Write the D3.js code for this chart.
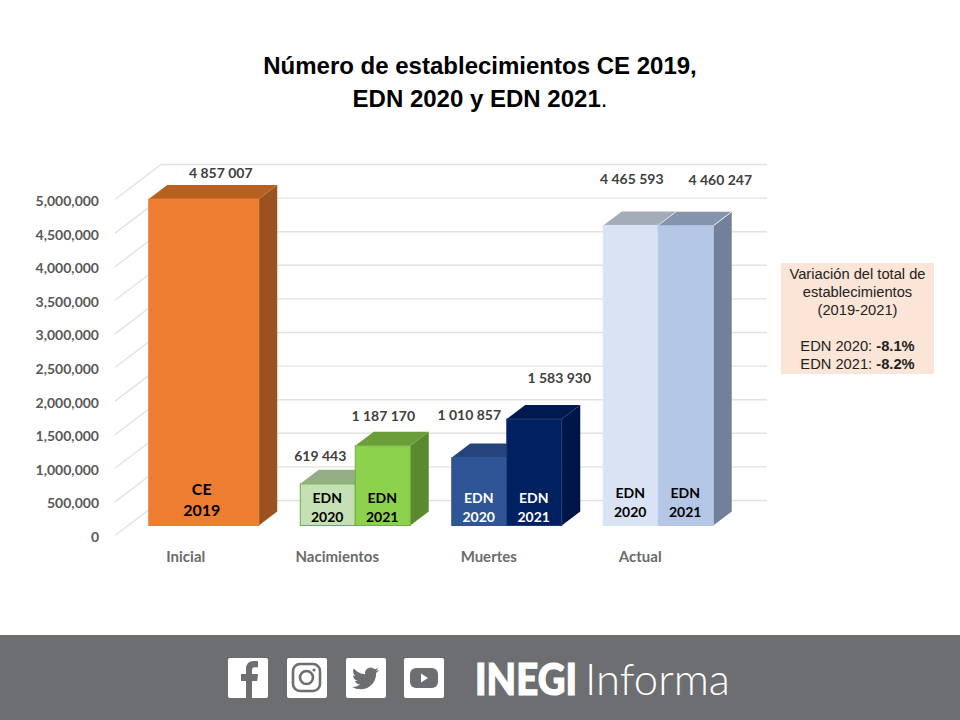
<!DOCTYPE html>
<html><head><meta charset="utf-8">
<script src="https://cdn.jsdelivr.net/npm/d3@7"></script>
<style>html,body{margin:0;padding:0;background:#fff}svg{display:block}</style>
</head><body><div id="c"></div>
<script>
const categories = ["Inicial","Nacimientos","Muertes","Actual"];
const ce2019  = [4857007,null,null,null];
const edn2020 = [null,619443,1010857,4465593];
const edn2021 = [null,1187170,1583930,4460247];
const seriesKeys = ["CE 2019","EDN 2020","EDN 2021"];
const tickValues = [0,500000,1000000,1500000,2000000,2500000,3000000,3500000,4000000,4500000,5000000];
const titleLines = ["Número de establecimientos CE 2019,","EDN 2020 y EDN 2021"];
const noteLines = ["Variación del total de","establecimientos","(2019-2021)"];
const noteValues = [["EDN 2020: ","-8.1%"],["EDN 2021: ","-8.2%"]];

const W=960,H=720;
const svg=d3.select("#c").append("svg").attr("width",W).attr("height",H);
const calibri="Lato, Carlito, sans-serif", arial="'Liberation Sans', Arial, sans-serif";

// palette per bar [front, top, side, edge, inner text]
const look={
 "Inicial|CE 2019":["#ed7d31","#b7601f","#9c5220","#ed7d31","#000"],
 "Nacimientos|EDN 2020":["#c5e0b4","#94ae86","#7f9a70","#70ad47","#000"],
 "Nacimientos|EDN 2021":["#8cd24c","#6a9e38","#5a8a30","#70ad47","#000"],
 "Muertes|EDN 2020":["#2f5597","#26447a","#1f3864","#2f5597","#fff"],
 "Muertes|EDN 2021":["#002060","#001a50","#001547","#1f3a78","#fff"],
 "Actual|EDN 2020":["#dae3f3","#a4abb9","#8a93a3","#dae3f3","#000"],
 "Actual|EDN 2021":["#b4c7e7","#8594ad","#72809a","#b4c7e7","#000"]
};
// hand-placed value labels, relative to bar top centre (as in the source)
const labelShift={
 "Inicial|CE 2019":[17,-26],
 "Nacimientos|EDN 2020":[-7.5,-28],
 "Nacimientos|EDN 2021":[0.5,-30],
 "Muertes|EDN 2020":[-10,-43],
 "Muertes|EDN 2021":[25,-41.5],
 "Actual|EDN 2020":[1,-46],
 "Actual|EDN 2021":[34.5,-46]
};

const y=d3.scaleLinear().domain([0,5000000]).range([535.5,199.5]);
const x=d3.scaleBand().domain(categories).range([115,721]).paddingInner(0.274).paddingOuter(0.137);
const inner=d3.scaleBand().domain(["EDN 2020","EDN 2021"]).range([0,x.bandwidth()]);

const wallDx=46,wallDy=-35;     // depth of the chart box
const barOffX=13,barOffY=-10;   // where bars stand on the floor
const barDx=18.5,barDy=-14;     // depth of each bar

// title
const title=svg.append("g").attr("font-family",arial).attr("font-weight",700).attr("font-size",24).attr("fill","#000").attr("text-anchor","middle");
title.append("text").attr("x",480).attr("y",74).text(titleLines[0]);
const t2=title.append("text").attr("x",480).attr("y",107).text(titleLines[1]);
t2.append("tspan").attr("font-weight",400).text(".");

// grid
const grid=svg.append("g").attr("stroke","#e2e2e2").attr("stroke-width",1.4).attr("fill","none");
grid.selectAll("path").data(tickValues).join("path")
 .attr("d",v=>`M${x.range()[0]},${y(v)}L${x.range()[0]+wallDx},${y(v)+wallDy}H${x.range()[1]+wallDx}`);

// y axis
const axis=svg.append("g").attr("transform","translate(99,1.5)")
 .call(d3.axisLeft(y).tickValues(tickValues).tickSize(0).tickPadding(0).tickFormat(d3.format(",")));
axis.select(".domain").remove();
axis.selectAll("text").attr("font-family",calibri).attr("font-weight",700).attr("font-size",14).attr("fill","#595959");

// category labels
svg.append("g").selectAll("text").data(categories).join("text")
 .attr("x",d=>x(d)+x.bandwidth()/2-5).attr("y",561.5).attr("text-anchor","middle")
 .attr("font-family",calibri).attr("font-weight",700).attr("font-size",15).attr("fill","#6b6b6b").text(d=>d);

// bars
const bars=[];
categories.forEach((c,i)=>{
  if(ce2019[i]!=null) bars.push({c,s:seriesKeys[0],v:ce2019[i],x0:x(c),w:x.bandwidth()});
  if(edn2020[i]!=null) bars.push({c,s:seriesKeys[1],v:edn2020[i],x0:x(c)+inner("EDN 2020"),w:inner.bandwidth()});
  if(edn2021[i]!=null) bars.push({c,s:seriesKeys[2],v:edn2021[i],x0:x(c)+inner("EDN 2021"),w:inner.bandwidth()});
});
const base=y(0)+barOffY;
const bg=svg.append("g");
bars.forEach(b=>{
  const k=b.c+"|"+b.s, L=look[k];
  const l=b.x0+barOffX, r=l+b.w, t=y(b.v)+barOffY;
  const g=bg.append("g");
  g.append("path").attr("fill",L[2]).attr("d",`M${r},${t}l${barDx},${barDy}V${base+barDy}L${r},${base}Z`);
  g.append("path").attr("fill",L[1]).attr("d",`M${l},${t}l${barDx},${barDy}H${r+barDx}L${r},${t}Z`);
  if(b.c==="Actual"){
    g.append("path").attr("stroke","#fff").attr("stroke-width",1).attr("fill","none").attr("opacity",0.85)
     .attr("d",`M${r},${t}l${barDx},${barDy}`);
  }
  g.append("rect").attr("x",l).attr("y",t).attr("width",b.w).attr("height",base-t).attr("fill",L[0])
   .attr("stroke",L[3]).attr("stroke-width",1);
});
// labels after all bars so neighbouring faces do not hide them
bars.forEach(b=>{
  const k=b.c+"|"+b.s, L=look[k], S=labelShift[k];
  const l=b.x0+barOffX, cx=l+b.w/2, t=y(b.v)+barOffY;
  const fmt=d3.formatLocale({decimal:".",thousands:" ",grouping:[3],currency:["",""]}).format(",");
  svg.append("text").attr("x",cx+S[0]).attr("y",t+S[1]+5).attr("text-anchor","middle")
   .attr("font-family",calibri).attr("font-weight",700).attr("font-size",14).attr("fill","#404040").text(fmt(b.v));
  const parts=b.s.split(" ");
  const isCE=b.c==="Inicial", low=b.c==="Actual";
  const y1=isCE?494.5:(low?498:503), y2=isCE?516:(low?517:522);
  const fx=isCE?-2:-0.5;
  [parts[0],parts[1]].forEach((p,i)=>{
    svg.append("text").attr("x",cx+fx).attr("y",i?y2:y1).attr("text-anchor","middle")
     .attr("font-family",calibri).attr("font-weight",700).attr("font-size",isCE?16:14).attr("fill",L[4]).text(p);
  });
});

// note box
const note=svg.append("g").attr("font-family",arial).attr("font-size",14.7).attr("fill","#222").attr("text-anchor","middle");
note.append("rect").attr("x",781).attr("y",263).attr("width",153).attr("height",111).attr("fill","#fbe5d6");
noteLines.forEach((s,i)=>note.append("text").attr("x",857.5).attr("y",278.5+i*18).text(s));
noteValues.forEach((s,i)=>{
  const tx=note.append("text").attr("x",857.5).attr("y",350.5+i*18).text(s[0]);
  tx.append("tspan").attr("font-weight",700).text(s[1]);
});

// footer
const foot=svg.append("g");
foot.append("rect").attr("x",0).attr("y",635).attr("width",W).attr("height",85).attr("fill","#6d6e71");
const gray="#6d6e71";
const icons=[228,287,346,404];
icons.forEach(ix=>foot.append("rect").attr("x",ix).attr("y",658).attr("width",40).attr("height",40).attr("rx",2).attr("fill","#fff"));
foot.append("path").attr("transform","translate(228,658)").attr("fill",gray)
 .attr("d","M18 40V23h-5v-7h5v-5c0-5.2 3-8 7.6-8 2 0 3.8.1 4.4.2v6h-3c-2.4 0-3 1.2-3 3v3.8h6l-.8 7h-5.2V40z");
const ig=foot.append("g").attr("transform","translate(287,658)").attr("fill","none").attr("stroke",gray);
ig.append("rect").attr("x",6).attr("y",6).attr("width",27).attr("height",27).attr("rx",7).attr("stroke-width",2.6);
ig.append("circle").attr("cx",19.5).attr("cy",19.5).attr("r",6.5).attr("stroke-width",2.6);
ig.append("circle").attr("cx",27).attr("cy",12).attr("r",1.6).attr("fill",gray).attr("stroke","none");
foot.append("path").attr("transform","translate(352,665) scale(1.12)").attr("fill",gray)
 .attr("d","M23.953 4.57a10 10 0 01-2.825.775 4.958 4.958 0 002.163-2.723c-.951.555-2.005.959-3.127 1.184a4.92 4.92 0 00-8.384 4.482C7.69 8.095 4.067 6.13 1.64 3.162a4.822 4.822 0 00-.666 2.475c0 1.71.87 3.213 2.188 4.096a4.904 4.904 0 01-2.228-.616v.06a4.923 4.923 0 003.946 4.827 4.996 4.996 0 01-2.212.085 4.936 4.936 0 004.604 3.417 9.867 9.867 0 01-6.102 2.105c-.39 0-.779-.023-1.17-.067a13.995 13.995 0 007.557 2.209c9.053 0 13.998-7.496 13.998-13.985 0-.21 0-.42-.015-.63A9.935 9.935 0 0024 4.59z");
const yt=foot.append("g").attr("transform","translate(404,658)");
yt.append("rect").attr("x",6).attr("y",10).attr("width",28).attr("height",20).attr("rx",6).attr("fill",gray);
yt.append("path").attr("d","M17 15.5l7 4.5-7 4.5z").attr("fill","#fff");
foot.append("text").attr("x",475).attr("y",695).attr("font-family","Lato").attr("font-weight",900).attr("font-size",44)
 .attr("fill","#fff").attr("stroke","#fff").attr("stroke-width",1.2).attr("textLength",102).attr("lengthAdjust","spacingAndGlyphs").text("INEGI");
foot.append("text").attr("x",585).attr("y",695).attr("font-family","Lato").attr("font-weight",300).attr("font-size",44)
 .attr("fill","#fff").attr("textLength",145).attr("lengthAdjust","spacingAndGlyphs").text("Informa");
</script></body></html>
